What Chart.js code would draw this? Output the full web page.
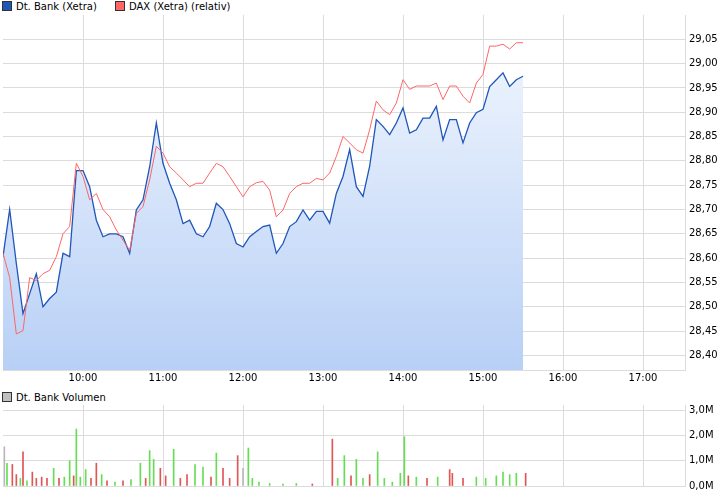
<!DOCTYPE html>
<html>
<head>
<meta charset="utf-8">
<script src="https://cdn.jsdelivr.net/npm/chart.js@4"></script>
<style>
body { margin:0; background:#fff; width:726px; height:496px; position:relative; overflow:hidden; font-family:"DejaVu Sans", sans-serif; font-size:10px; color:#000; }
.leg { position:absolute; white-space:nowrap; }
.box { display:inline-block; width:8px; height:8px; border:1px solid #333; vertical-align:-1px; margin-right:4px; }
#c1 { position:absolute; left:0; top:0; }
#c2 { position:absolute; left:0; top:395px; }
</style>
</head>
<body>
<div class="leg" style="left:2px;top:1px"><span class="box" style="background:#1f56b8"></span>Dt. Bank (Xetra)</div>
<div class="leg" style="left:115px;top:1px"><span class="box" style="background:#ff6666"></span>DAX (Xetra) (relativ)</div>
<div class="leg" style="left:2px;top:392px"><span class="box" style="background:#c0c0c0"></span>Dt. Bank Volumen</div>
<canvas id="c1" width="726" height="390"></canvas>
<canvas id="c2" width="726" height="101"></canvas>
<script>
// Kurse alle 5 Minuten ab 9:00
var bank = [28.603, 28.70, 28.589, 28.486, 28.527, 28.568, 28.50, 28.517, 28.53, 28.61,
  28.603, 28.78, 28.78, 28.747, 28.678, 28.644, 28.65, 28.65, 28.644, 28.61,
  28.699, 28.72, 28.788, 28.878, 28.795, 28.754, 28.72, 28.671, 28.678, 28.65,
  28.644, 28.665, 28.713, 28.70, 28.671, 28.63, 28.623, 28.644, 28.655, 28.665,
  28.668, 28.61, 28.63, 28.665, 28.675, 28.699, 28.678, 28.696, 28.696, 28.672,
  28.733, 28.768, 28.823, 28.747, 28.727, 28.789, 28.885, 28.871, 28.854, 28.878,
  28.909, 28.857, 28.864, 28.888, 28.888, 28.912, 28.843, 28.885, 28.885, 28.837,
  28.878, 28.899, 28.906, 28.953, 28.967, 28.981, 28.953, 28.967, 28.974];
var dax = [28.61, 28.56, 28.444, 28.451, 28.56, 28.554, 28.568, 28.575, 28.603, 28.65,
  28.665, 28.795, 28.768, 28.72, 28.733, 28.70, 28.685, 28.658, 28.637, 28.616,
  28.692, 28.706, 28.761, 28.83, 28.816, 28.788, 28.775, 28.761, 28.747, 28.754,
  28.754, 28.775, 28.795, 28.788, 28.768, 28.747, 28.726, 28.747, 28.755, 28.758,
  28.74, 28.685, 28.699, 28.733, 28.747, 28.754, 28.754, 28.764, 28.761, 28.775,
  28.809, 28.85, 28.837, 28.823, 28.816, 28.864, 28.923, 28.905, 28.895, 28.919,
  28.967, 28.947, 28.954, 28.954, 28.954, 28.96, 28.926, 28.954, 28.954, 28.933,
  28.919, 28.96, 28.978, 29.036, 29.036, 29.04, 29.03, 29.043, 29.043];
var stepMin = 5;
var hourTicks = [60, 120, 180, 240, 300, 360, 420, 480];
var hourLabels = ['10:00', '11:00', '12:00', '13:00', '14:00', '15:00', '16:00', '17:00'];

// Volumen: Minute, Wert (Mio), Richtung
var volMin = [1, 3, 7, 10, 13, 15, 18, 22, 25, 29, 33, 38, 42, 46, 50, 53, 55, 58, 62, 66, 70, 74, 78, 84, 90, 96, 103, 107, 110, 113, 118, 122, 128, 133, 138, 144, 150, 156, 160, 165, 170, 176, 180, 184, 187, 192, 200, 210, 220, 232, 247, 251, 256, 261, 265, 270, 275, 281, 286, 292, 298, 301, 304, 310, 318, 326, 335, 337, 345, 355, 362, 370, 375, 380, 385, 392];
var volVal = [1.55, 0.9, 0.85, 0.45, 0.3, 1.35, 0.2, 0.55, 0.3, 0.35, 0.3, 0.7, 0.3, 0.35, 1.0, 0.4, 2.25, 0.35, 0.65, 0.3, 0.9, 0.45, 0.2, 0.15, 0.2, 0.25, 0.9, 0.3, 1.4, 1.05, 0.7, 0.4, 1.45, 0.3, 0.45, 0.85, 0.75, 0.35, 1.3, 0.7, 0.3, 1.2, 0.7, 1.5, 0.3, 0.15, 0.1, 0.08, 0.1, 0.08, 1.85, 0.3, 1.2, 0.4, 1.05, 0.3, 0.45, 1.35, 0.3, 0.15, 0.5, 1.95, 0.4, 0.35, 0.3, 0.35, 0.65, 0.5, 0.3, 0.35, 0.3, 0.4, 0.55, 0.45, 0.5, 0.5];
var volDir = ['n','u','d','d','u','d','u','d','d','d','d','u','d','u','u','d','u','u','u','d','d','u','d','u','d','u','u','d','u','u','d','d','u','d','d','u','u','d','u','d','d','d','n','u','u','u','u','u','u','d','d','u','u','d','u','u','d','u','u','u','u','u','d','u','d','u','d','d','d','u','u','u','u','u','u','d'];

var font = { family: 'DejaVu Sans', size: 10 };
var grid = '#dcdcdc';

function gradFill(ctx) {
  var ca = ctx.chart.chartArea;
  if (!ca) return '#d0e0f8';
  var g = ctx.chart.ctx.createLinearGradient(0, ca.top, 0, ca.bottom);
  g.addColorStop(0, '#f4f8fe');
  g.addColorStop(1, '#b8d0f6');
  return g;
}

function xScale(show) {
  return {
    type: 'linear', min: 0, max: 511.5, offset: false,
    afterBuildTicks: function (s) { s.ticks = hourTicks.map(function (v) { return { value: v }; }); },
    ticks: { display: show, font: font, color: '#000', padding: 2, maxRotation: 0,
      callback: function (v) { return hourLabels[hourTicks.indexOf(v)]; } },
    grid: { color: grid, drawTicks: false, offset: false },
    border: { color: grid },
    afterFit: function (s) { s.height = show ? 20 : 0; }
  };
}

new Chart(document.getElementById('c1'), {
  type: 'line',
  data: {
    datasets: [
      { label: 'DAX (Xetra) (relativ)', data: dax.map(function (v, i) { return { x: i * stepMin, y: v }; }),
        borderColor: '#ff6666', borderWidth: 1, pointRadius: 0, fill: false, order: 0 },
      { label: 'Dt. Bank (Xetra)', data: bank.map(function (v, i) { return { x: i * stepMin, y: v }; }),
        borderColor: '#1f56b8', borderWidth: 1.3, pointRadius: 0, fill: 'start', backgroundColor: gradFill, order: 1 }
    ]
  },
  options: {
    responsive: false, animation: false,
    layout: { padding: { left: 3, top: 15, right: 0, bottom: 0 } },
    plugins: { legend: { display: false }, tooltip: { enabled: false } },
    scales: {
      x: xScale(true),
      y: {
        position: 'right', min: 28.37, max: 29.10,
        afterBuildTicks: function (s) {
          var t = [];
          for (var v = 28.40; v < 29.06; v += 0.05) t.push({ value: Math.round(v * 100) / 100 });
          s.ticks = t;
        },
        ticks: { font: font, color: '#000', padding: 4,
          callback: function (v) { return v.toFixed(2).replace('.', ','); } },
        grid: { color: grid, drawTicks: false },
        border: { color: grid },
        afterFit: function (s) { s.width = 41; }
      }
    }
  }
});

var dirColor = { u: '#66dd55', d: '#e05555', n: '#b8b8b8' };
new Chart(document.getElementById('c2'), {
  type: 'bar',
  data: {
    datasets: [{
      data: volMin.map(function (m, i) { return { x: m, y: volVal[i] }; }),
      backgroundColor: volDir.map(function (d) { return dirColor[d]; }),
      barThickness: 1
    }]
  },
  options: {
    responsive: false, animation: false,
    layout: { padding: { left: 3, top: 8, right: 0, bottom: 9 } },
    plugins: { legend: { display: false }, tooltip: { enabled: false } },
    scales: {
      x: xScale(false),
      y: {
        position: 'right', min: 0, max: 3.2,
        afterBuildTicks: function (s) { s.ticks = [0, 1, 2, 3].map(function (v) { return { value: v }; }); },
        ticks: { font: font, color: '#000', padding: 4,
          callback: function (v) { return v.toFixed(1).replace('.', ',') + 'M'; } },
        grid: { color: grid, drawTicks: false },
        border: { color: grid },
        afterFit: function (s) { s.width = 41; }
      }
    }
  }
});
</script>
</body>
</html>
